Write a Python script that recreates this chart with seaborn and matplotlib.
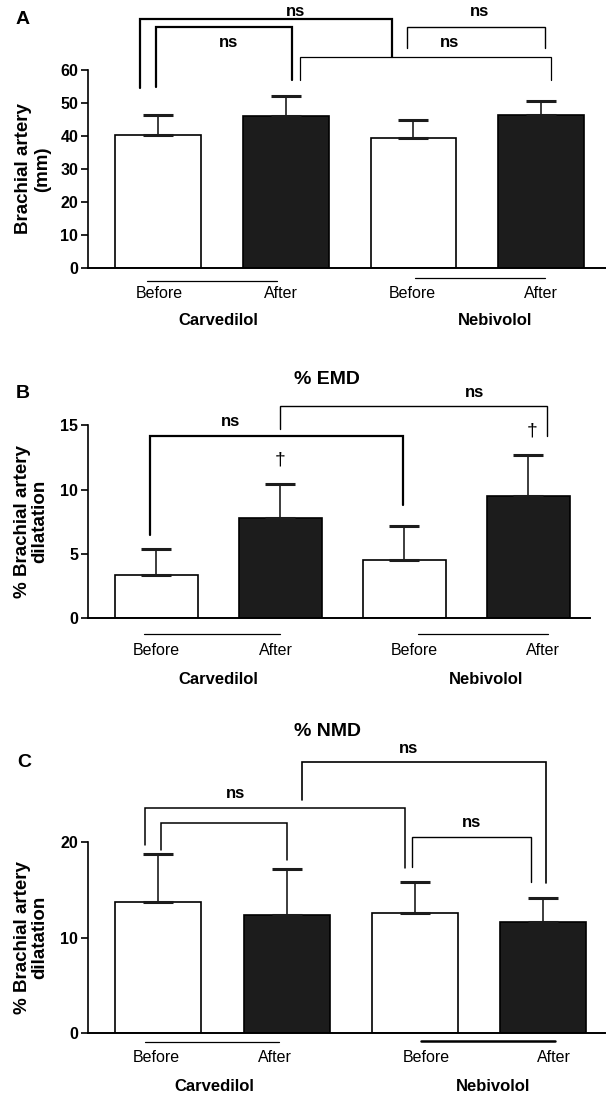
import matplotlib
matplotlib.use('Agg')
import matplotlib.pyplot as plt
import matplotlib.transforms as mtransforms
import seaborn as sns
import pandas as pd

# ---------------- data ----------------
conditions = ['Carvedilol Before', 'Carvedilol After', 'Nebivolol Before', 'Nebivolol After']
tick_labels = ['Before', 'After', 'Before', 'After']
groups = ['Carvedilol', 'Nebivolol']

diam_mean = [40.3, 46.2, 39.5, 46.4]
diam_sd = [6.1, 5.9, 5.5, 4.1]
emd_mean = [3.4, 7.8, 4.5, 9.5]
emd_sd = [2.0, 2.6, 2.7, 3.2]
nmd_mean = [13.7, 12.4, 12.6, 11.7]
nmd_sd = [5.1, 4.8, 3.2, 2.5]

# ---------------- style ----------------
sns.set_style('ticks')
plt.rcParams['font.family'] = ['Liberation Sans', 'DejaVu Sans']
plt.rcParams['axes.linewidth'] = 1.2
plt.rcParams['text.color'] = 'black'
plt.rcParams['axes.labelcolor'] = 'black'
plt.rcParams['xtick.color'] = 'black'
plt.rcParams['ytick.color'] = 'black'
plt.rcParams['axes.edgecolor'] = 'black'

W, H = 606, 1096
fig = plt.figure(figsize=(W / 100, H / 100), dpi=100)
fig.patch.set_facecolor('white')


def px_axes(left, right, top, bottom):
    return fig.add_axes([left / W, 1 - bottom / H, (right - left) / W, (bottom - top) / H])


bar_colors = ['white', '#1c1c1c', 'white', '#1c1c1c']


def panel(ax, means, sds, ylim, yticks, xlim, tickpos, tick_y, uline, group_pos, group_y,
          ylabel, ylab_x, linesp, brackets, ns_labels, bar_w=0.67):
    df = pd.DataFrame({'cond': conditions, 'val': means})
    sns.barplot(data=df, x='cond', y='val', hue='cond', palette=bar_colors,
                order=conditions, hue_order=conditions, legend=False,
                edgecolor='black', linewidth=1.2, width=bar_w, errorbar=None, ax=ax)
    ax.errorbar(range(4), means, yerr=[[0] * 4, sds], fmt='none', ecolor='#1c1c1c',
                elinewidth=1.2, capsize=11, capthick=2.2, zorder=1)
    ax.set_ylim(*ylim)
    ax.set_xlim(*xlim)
    ax.set_yticks(yticks)
    ax.set_yticklabels([str(t) for t in yticks], fontsize=11.5, fontweight='bold')
    ax.tick_params(axis='y', length=5, width=1.2, pad=2, colors='black')
    ax.set_xticks([])
    ax.set_xlabel('')
    ax.set_ylabel('')
    sns.despine(ax=ax)
    ax.spines['left'].set_linewidth(1.2)
    ax.spines['bottom'].set_linewidth(1.4)
    trans = mtransforms.blended_transform_factory(ax.transData, ax.transAxes)
    for x, lab in zip(tickpos, tick_labels):
        ax.text(x, tick_y, lab, transform=trans, ha='center', va='center', fontsize=11.5)
    for (x1, x2, yy, lw) in uline:
        ax.plot([x1, x2], [yy, yy], transform=trans, color='black', lw=lw, clip_on=False)
    for x, g in zip(group_pos, groups):
        ax.text(x, group_y, g, transform=trans, ha='center', va='center',
                fontsize=12, fontweight='bold')
    ax.text(ylab_x, 0.5, ylabel, transform=ax.transAxes, rotation=90, ha='center',
            va='center', fontsize=13.5, fontweight='bold', linespacing=linesp,
            multialignment='center')
    for (x1, x2, y1, yt, y2, lw) in brackets:
        ax.plot([x1, x1, x2, x2], [y1, yt, yt, y2], color='black', lw=lw,
                clip_on=False, solid_joinstyle='miter')
    for (x, y, s, fs, fw) in ns_labels:
        ax.text(x, y, s, ha='center', va='center', fontsize=fs, fontweight=fw, clip_on=False)


# ---------------- panel A ----------------
axA = px_axes(88, 606, 70, 268)
panel(axA, diam_mean, diam_sd, (0, 60), [0, 10, 20, 30, 40, 50, 60], (-0.55, 3.51),
      [0.01, 0.96, 1.99, 3.0], -0.131,
      [(-0.086, 0.93, -0.066, 0.9), (2.01, 3.03, -0.049, 0.9)],
      [0.47, 2.64], -0.263,
      'Brachial artery\n(mm)', -0.106, 1.15,
      [(-0.14, 1.83, 54.5, 75.5, 64.0, 1.6),
       (-0.02, 1.05, 55.0, 73.1, 57.0, 1.6),
       (1.11, 3.08, 57.0, 63.8, 57.0, 0.9),
       (1.95, 3.03, 66.6, 73.1, 66.6, 1.0)],
      [(1.08, 77.7, 'ns', 12, 'bold'), (0.55, 68.4, 'ns', 12, 'bold'),
       (2.52, 77.7, 'ns', 12, 'bold'), (2.28, 68.4, 'ns', 12, 'bold')])

# ---------------- panel B ----------------
axB = px_axes(88, 590, 425.3, 618.3)
panel(axB, emd_mean, emd_sd, (0, 15), [0, 5, 10, 15], (-0.55, 3.50),
      [0.0, 0.97, 2.08, 3.12], -0.168,
      [(-0.097, 0.995, -0.083, 0.9), (2.11, 3.16, -0.083, 0.9)],
      [0.505, 2.66], -0.316,
      '% Brachial artery\ndilatation', -0.113, 1.05,
      [(-0.05, 1.99, 6.47, 14.19, 8.8, 1.6),
       (1.0, 3.15, 14.71, 16.52, 14.16, 1.0)],
      [(0.6, 15.28, 'ns', 12, 'bold'), (2.57, 17.56, 'ns', 12, 'bold'),
       (1.0, 12.3, '\u2020', 14, 'normal'), (3.03, 14.58, '\u2020', 14, 'normal')])

# ---------------- panel C ----------------
axC = px_axes(88, 605, 842.3, 1033.3)
panel(axC, nmd_mean, nmd_sd, (0, 20), [0, 10, 20], (-0.546, 3.48),
      [-0.015, 0.91, 2.09, 3.08], -0.126,
      [(-0.099, 0.94, -0.047, 0.9), (2.05, 3.09, -0.040, 1.8)],
      [0.44, 2.61], -0.276,
      '% Brachial artery\ndilatation', -0.110, 1.05,
      [(-0.105, 1.92, 19.72, 23.62, 17.34, 1.1),
       (0.02, 1.0, 19.19, 22.05, 18.15, 1.1),
       (1.12, 3.02, 24.43, 28.38, 15.71, 1.2),
       (1.98, 2.9, 17.45, 20.59, 15.87, 1.0)],
      [(0.6, 25.06, 'ns', 12, 'bold'), (1.95, 29.84, 'ns', 12, 'bold'),
       (2.44, 22.05, 'ns', 12, 'bold')])

# ---------------- titles and panel letters ----------------
fig.text(327 / W, 1 - 379.3 / H, '% EMD', ha='center', va='center', fontsize=14, fontweight='bold')
fig.text(327 / W, 1 - 731.7 / H, '% NMD', ha='center', va='center', fontsize=14, fontweight='bold')
fig.text(23 / W, 1 - 20 / H, 'A', ha='center', va='center', fontsize=14, fontweight='bold')
fig.text(23 / W, 1 - 393.3 / H, 'B', ha='center', va='center', fontsize=14, fontweight='bold')
fig.text(24 / W, 1 - 762.7 / H, 'C', ha='center', va='center', fontsize=14, fontweight='bold')

fig.savefig('out.png', dpi=100, facecolor='white')
